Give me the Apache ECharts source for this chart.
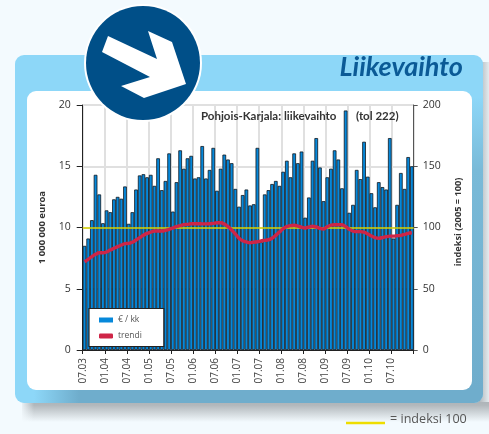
<!DOCTYPE html>
<html><head><meta charset="utf-8">
<style>html,body{margin:0;padding:0;background:#f3fafe}#c{width:489px;height:434px}</style>
<script src="https://cdn.jsdelivr.net/npm/echarts@6/dist/echarts.min.js"></script></head>
<body><div id="c"></div>
<script>
const revenue=[8.5,9.1,10.6,14.3,12.7,10.35,11.4,11.25,12.3,12.5,12.35,13.35,10.3,11.25,13.1,14.25,14.35,14.1,14.3,13.4,15.65,13.05,13.8,16.05,11.3,13.7,16.3,14.8,15.65,15.85,14.0,14.1,16.65,14.0,14.7,16.5,13.0,14.8,15.95,15.55,15.25,13.15,11.7,12.65,13.1,11.8,11.9,16.5,8.8,12.7,13.05,13.55,13.8,13.4,14.55,15.45,14.1,16.05,15.25,16.2,10.8,12.45,15.45,17.3,14.9,12.15,14.1,14.8,16.3,15.55,13.2,19.55,11.2,11.85,14.7,13.95,17.0,14.15,12.8,11.65,13.7,13.3,13.1,17.3,9.1,11.85,14.45,13.15,15.75,15.0];
const trend=[72.1,74,76.2,78.1,79.4,79.4,80,81.6,83,84.4,85.7,86.8,87,87.9,89.8,91.7,93.6,95.2,96.3,97.1,97.1,97.1,97.7,98.5,99.6,100.7,101.5,102.3,102.6,103.1,103.1,103.1,103,103,103.1,103.4,103.9,103.9,102.9,100.7,98,94.7,91.2,89.2,88.2,87.6,88,88.4,89,89.5,90,91.2,93.6,96.3,99,100.7,101.5,101.8,101.2,100.2,99.6,100.4,101,100.4,99.3,98.8,100.7,102,102.3,102.3,102.3,100.7,98.5,97.1,96.6,96.6,96.3,94.7,93,91.7,91.2,91.7,92.5,93,93,93.3,93.6,94.4,95.2,95.7];
const tickLabels=['07.03','01.04','07.04','01.05','07.05','01.06','07.06','01.07','07.07','01.08','07.08','01.09','07.09','01.10','07.10',''];
const months=revenue.map((_,i)=>String(i));
const FONT='"Open Sans","Noto Sans",sans-serif';
const LG=echarts.graphic.LinearGradient;
const chart=echarts.init(document.getElementById('c'),null,{renderer:'canvas'});
chart.setOption({
 animation:false,
 backgroundColor:'#f3fafe',
 textStyle:{fontFamily:FONT},
 graphic:[
  {type:'rect',z:-23,shape:{x:22,y:398,width:467,height:24},style:{fill:new LG(0,0,0,1,[{offset:0,color:'#a9b0b5'},{offset:0.3,color:'#b2b8bc'},{offset:1,color:'#f3fafe'}])}},
  {type:'rect',z:-22,shape:{x:20,y:398,width:14,height:26},style:{fill:new LG(0,0,1,0,[{offset:0,color:'#f3fafe'},{offset:1,color:'rgba(243,250,254,0)'}])}},
  {type:'rect',z:-23,shape:{x:480,y:62,width:9,height:340},style:{fill:new LG(0,0,1,0,[{offset:0,color:'#b4babe'},{offset:1,color:'#e4ebef'}])}},
  {type:'rect',z:-20,shape:{x:15,y:55,width:468,height:348,r:9},style:{fill:'#8dd7f8'}},
  {type:'rect',z:-19,shape:{x:34,y:385,width:449,height:18,r:[0,0,9,0]},style:{fill:new LG(0,0,1,0,[{offset:0,color:'#8dd7f8'},{offset:0.1,color:'#6fadcc'},{offset:1,color:'#6fadcc'}])}},
  {type:'rect',z:-19,shape:{x:468,y:97,width:15,height:292},style:{fill:new LG(0,0,0,1,[{offset:0,color:'#8dd7f8'},{offset:0.25,color:'#79bad8'},{offset:1,color:'#6fadcc'}])}},
  {type:'rect',z:-18,shape:{x:27,y:91,width:445,height:299,r:9},style:{fill:'#ffffff'}},
  {type:'circle',z:50,shape:{cx:143,cy:63,r:59},style:{fill:'#ffffff'}},
  {type:'circle',z:51,shape:{cx:143,cy:63,r:57},style:{fill:'#004f88'}},
  {type:'polygon',z:52,shape:{points:[[108,36],[102,52],[150,77],[121,86],[144,98],[186,84],[172,42],[148,31],[157,59]]},style:{fill:'#ffffff'}},
  {type:'text',z:53,right:26,top:54,style:{text:'Liikevaihto',fill:'#0b5a96',font:'italic bold 27px Lato,'+FONT}},
  {type:'text',z:53,left:201,top:110.5,style:{text:'Pohjois-Karjala: liikevaihto       (tol 222)',fill:'#333',font:'bold 11.5px Lato,'+FONT}},
  {type:'line',z:53,shape:{x1:346,y1:423,x2:385,y2:423},style:{stroke:'#eedd00',lineWidth:2.5}},
  {type:'text',z:53,left:390,top:413,style:{text:'= indeksi 100',fill:'#555',font:'12.6px '+FONT}}
 ],
 legend:{data:[{name:'€ / kk',icon:'rect',itemStyle:{borderWidth:0}},{name:'trendi',icon:'roundRect'}],orient:'vertical',left:89,top:308.5,
  padding:[7,22,6,10],itemWidth:14,itemHeight:5,itemGap:7,backgroundColor:'#fff',borderColor:'#222',borderWidth:1.2,
  textStyle:{fontSize:8.5,color:'#555',fontFamily:FONT},z:20},
 grid:{left:82.7,right:75.3,top:105,bottom:84},
 xAxis:[
  {type:'category',data:months,show:false},
  {type:'value',min:0,max:90,interval:6,position:'bottom',
   axisLine:{show:true,onZero:false,lineStyle:{color:'#222',width:1}},
   axisTick:{show:true,length:4,lineStyle:{color:'#222'}},
   splitLine:{show:true,lineStyle:{color:'#e0e0e0',width:2}},
   axisLabel:{rotate:90,margin:8,fontSize:10,color:'#444',showMinLabel:true,showMaxLabel:true,hideOverlap:false,
     formatter:v=>tickLabels[v/6]}}
 ],
 yAxis:[
  {type:'value',min:0,max:20,interval:5,name:'1 000 000 euroa',nameLocation:'middle',nameGap:31,
   nameTextStyle:{fontSize:9.5,fontWeight:'bold',color:'#333'},
   axisLine:{show:true,lineStyle:{color:'#222',width:1}},axisTick:{show:true,length:6,lineStyle:{color:'#222'}},
   axisLabel:{margin:12,fontSize:10.5,color:'#333'},splitLine:{show:true,lineStyle:{color:'#e0e0e0',width:2}}},
  {type:'value',min:0,max:200,interval:50,position:'right',name:'indeksi (2005 = 100)',nameLocation:'middle',nameGap:40,nameRotate:90,
   nameTextStyle:{fontSize:9.2,fontWeight:'bold',color:'#333',padding:[0,0,0,11]},
   axisLine:{show:true,lineStyle:{color:'#555',width:1}},axisTick:{show:true,length:4,lineStyle:{color:'#555'}},
   axisLabel:{margin:9,fontSize:10.5,color:'#333'},splitLine:{show:false}}
 ],
 series:[
  {name:'€ / kk',type:'bar',xAxisIndex:0,yAxisIndex:0,data:revenue,barWidth:'100%',
   itemStyle:{color:'#0688da',borderColor:'#101820',borderWidth:0.8},z:2,
   markLine:{silent:true,symbol:'none',label:{show:false},z:3,lineStyle:{color:'#d8d400',width:1.5,type:'solid'},data:[{yAxis:10}]}},
  {name:'trendi',type:'line',xAxisIndex:0,yAxisIndex:1,data:trend,showSymbol:false,smooth:0.3,
   lineStyle:{color:'#cf2547',width:3.4},itemStyle:{color:'#cf2547'},z:4}
 ]
});
</script></body></html>
